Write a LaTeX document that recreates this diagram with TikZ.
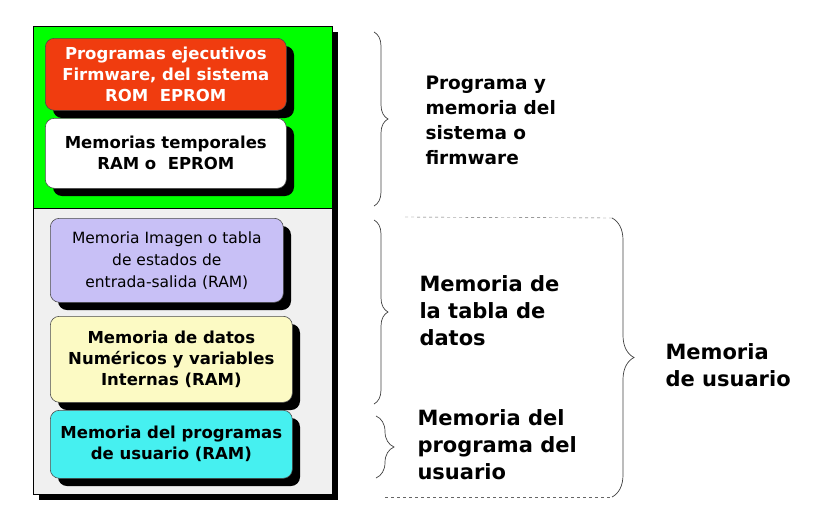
\documentclass[tikz,border=0pt]{standalone}
\usepackage{fontspec}
\setmainfont{DejaVu Sans}
\usetikzlibrary{decorations.pathreplacing}
\definecolor{cred}{RGB}{240,60,15}
\definecolor{ccyan}{RGB}{70,240,240}
\definecolor{cpur}{RGB}{200,192,246}
\definecolor{cyel}{RGB}{252,250,196}
\begin{document}
\begin{tikzpicture}[x=1pt,y=-1pt,
  mem/.style={draw=black!70,rounded corners=9pt,line width=0.6pt},
  shad/.style={fill=black,rounded corners=9pt},
  btxt/.style={align=center,font=\fontsize{16.5}{21}\selectfont\bfseries},
  lbl/.style={align=left,anchor=north west,font=\fontsize{21}{27}\selectfont\bfseries},
  br/.style={decorate,decoration={brace,amplitude=14pt},draw=black!75,line width=0.7pt}]
\useasboundingbox (0,0) rectangle (817,509);
\fill (39,32) rectangle (338,500);
\fill[green] (33,26) rectangle (332,208);
\fill[black!6] (33,208) rectangle (332,494);
\draw[line width=1pt] (33,26) rectangle (332,494);
\draw[line width=1pt] (33,208) -- (332,208);
\fill[shad] (53,46) rectangle (294,118);
\node[mem,fill=cred,minimum width=241,minimum height=72,anchor=north west,inner sep=0] (rom) at (45,38) {};
\node[btxt,text=white] at (rom.center) {Programas ejecutivos\\Firmware, del sistema\\ROM\ \ EPROM};
\fill[shad] (53,126) rectangle (294,196);
\node[mem,fill=white,minimum width=241,minimum height=70,anchor=north west,inner sep=0] (tmp) at (45,118) {};
\node[btxt] at (tmp.center) {Memorias temporales\\RAM o\ \ EPROM};
\fill[shad] (58,226) rectangle (291,310);
\node[mem,fill=cpur,minimum width=233,minimum height=84,anchor=north west,inner sep=0] (img) at (50,218) {};
\node[align=center,font=\fontsize{15.5}{22}\selectfont] at (img.center) {Memoria Imagen o tabla\\de estados de\\entrada-salida (RAM)};
\fill[shad] (58,324) rectangle (300,410);
\node[mem,fill=cyel,minimum width=242,minimum height=86,anchor=north west,inner sep=0] (dat) at (50,316) {};
\node[btxt] at (dat.center) {Memoria de datos\\Numéricos y variables\\Internas (RAM)};
\fill[shad] (58,418) rectangle (300,486);
\node[mem,fill=ccyan,minimum width=242,minimum height=68,anchor=north west,inner sep=0] (usr) at (50,410) {};
\node[btxt] at (usr.center) {Memoria del programas\\de usuario (RAM)};
\coordinate (b1a) at (374,32); \coordinate (b1b) at (374,206);
\draw[br] (b1a) -- (b1b);
\coordinate (b2a) at (374,220); \coordinate (b2b) at (374,404);
\draw[br] (b2a) -- (b2b);
\coordinate (b3a) at (376,416); \coordinate (b3b) at (376,478);
\draw[br,decoration={brace,amplitude=18pt}] (b3a) -- (b3b);
\coordinate (b4a) at (612,218); \coordinate (b4b) at (612,497);
\draw[br,decoration={brace,amplitude=22pt}] (b4a) -- (b4b);
\coordinate (d1a) at (405,217); \coordinate (d2a) at (385,497);
\draw[dashed,black!60] (d1a) -- (b4a);
\draw[dashed,black!60] (d2a) -- (b4b);
\node[lbl,font=\fontsize{18.5}{25}\selectfont\bfseries] (l1) at (422,72) {Programa y\\memoria del\\sistema o\\firmware};
\node[lbl] (l2) at (416,272) {Memoria de\\la tabla de\\datos};
\node[lbl] (l3) at (414,406) {Memoria del\\programa del\\usuario};
\node[lbl] (l4) at (662,340) {Memoria\\de usuario};
\end{tikzpicture}
\end{document}
